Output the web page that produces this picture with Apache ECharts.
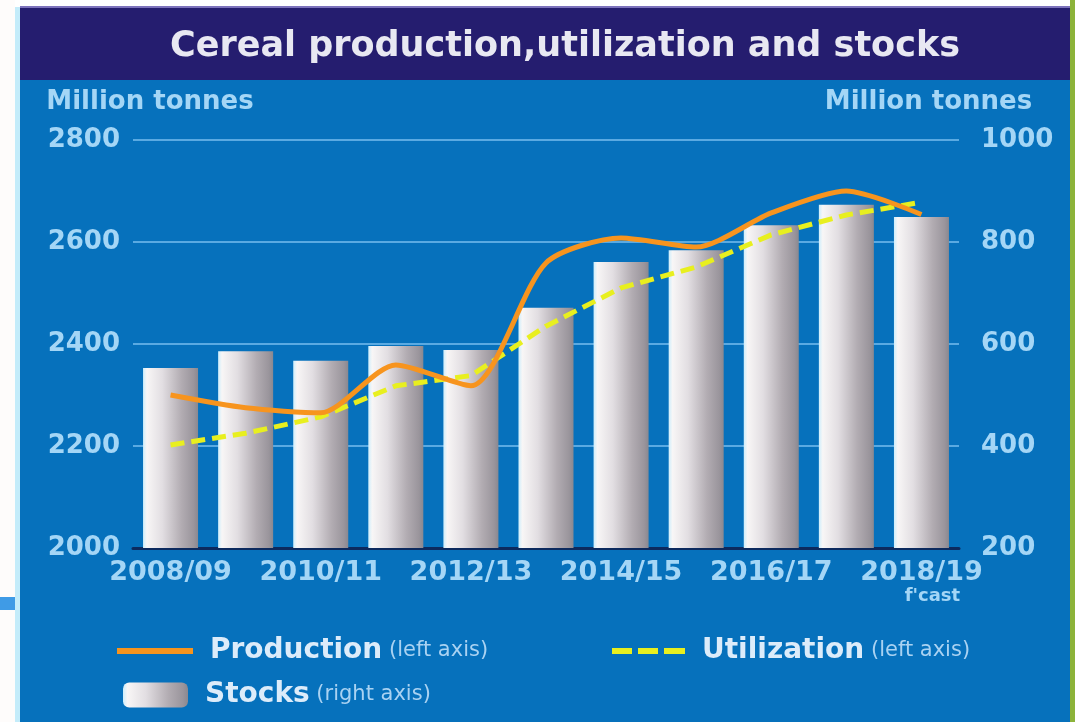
<!DOCTYPE html>
<html>
<head>
<meta charset="utf-8">
<title>Cereal production, utilization and stocks</title>
<script src="https://cdn.jsdelivr.net/npm/echarts@6/dist/echarts.min.js"></script>
<style>
  html, body { margin: 0; padding: 0; background: #ffffff; }
  #chart { width: 1075px; height: 722px; }
</style>
</head>
<body>
<div id="chart"></div>
<script>
// Marketing years on the category axis
const categories = ['2008/09', '2009/10', '2010/11', '2011/12', '2012/13', '2013/14',
                    '2014/15', '2015/16', '2016/17', '2017/18', '2018/19'];
// Million tonnes, left axis
const production  = [2300, 2275, 2265, 2359, 2318, 2559, 2608, 2590, 2657, 2700, 2654];
const utilization = [2202, 2225, 2257, 2318, 2338, 2435, 2510, 2551, 2614, 2653, 2678];
// Million tonnes, right axis
const stocks      = [553, 586, 567, 596, 588, 671, 761, 784, 833, 873, 849];
// Axis ticks
const leftTicks  = { min: 2000, max: 2800, step: 200 };
const rightTicks = { min: 200,  max: 1000, step: 200 };
const forecastNote = "f'cast";
const unitLabel = 'Million tonnes';

const FONT = 'DejaVu Sans';
const LABEL_COLOR = '#a4d6f6';
const BLUE_BG = '#0671bc';
const ORANGE = '#f7941e';
const YELLOW = '#e8ef1f';

const barFill = new echarts.graphic.LinearGradient(0, 0, 1, 0, [
  { offset: 0.00, color: '#cdeefc' },
  { offset: 0.07, color: '#f8f6f6' },
  { offset: 0.35, color: '#e2dee2' },
  { offset: 0.70, color: '#b2acb2' },
  { offset: 0.92, color: '#9a959c' },
  { offset: 1.00, color: '#8a8890' }
]);

// legend swatches: a solid stroke and a three-dash stroke
const solidIcon  = 'rect';
const dashedIcon = 'path://M0,0h20v6h-20z M26,0h20v6h-20z M52,0h21v6h-21z';

const chart = echarts.init(document.getElementById('chart'), null, { renderer: 'canvas' });

const legendRich = {
  g: { width: 12 },
  b: { fontFamily: FONT, fontWeight: 'bold', fontSize: 28, color: '#dcecfa' },
  s: { fontFamily: FONT, fontSize: 21, color: '#a9d2f2' }
};
const plain = v => String(v);

chart.setOption({
  backgroundColor: BLUE_BG,
  animation: false,
  graphic: [
    // page margins and header band
    { type: 'rect', shape: { x: 0, y: 0, width: 1075, height: 7 }, style: { fill: '#ffffff' } },
    { type: 'rect', shape: { x: 0, y: 0, width: 15, height: 722 }, style: { fill: '#fefcfb' } },
    { type: 'rect', shape: { x: 15, y: 7, width: 5, height: 715 }, style: { fill: '#c4ecfa' } },
    { type: 'rect', shape: { x: 0, y: 597, width: 15, height: 13 }, style: { fill: '#3f9be6' } },
    { type: 'rect', shape: { x: 20, y: 6, width: 1050, height: 2 }, style: { fill: '#7c72bc' } },
    { type: 'rect', shape: { x: 20, y: 8, width: 1050, height: 72 }, style: { fill: '#251d6f' } },
    { type: 'rect', shape: { x: 1070, y: 0, width: 5, height: 722 }, style: { fill: '#8cb33a' } }
  ],
  title: {
    text: 'Cereal production,utilization and stocks',
    left: 560,
    textAlign: 'center',
    top: 24,
    textStyle: { fontFamily: FONT, fontWeight: 'bold', fontSize: 35, color: '#e8e8f2' }
  },
  legend: [
    {
      data: [{ name: 'Production', icon: solidIcon, itemStyle: { color: ORANGE, borderWidth: 0 } }],
      left: 112, top: 632,
      itemWidth: 76, itemHeight: 6,
      formatter: n => '{g| }{b|' + n + '}{s| (left axis)}',
      textStyle: { rich: legendRich }
    },
    {
      data: [{ name: 'Utilization', icon: dashedIcon, itemStyle: { color: YELLOW, borderWidth: 0 } }],
      left: 607, top: 632,
      itemWidth: 73, itemHeight: 6,
      formatter: n => '{g| }{b|' + n + '}{s| (left axis)}',
      textStyle: { rich: legendRich }
    },
    {
      data: ['Stocks'],
      left: 118, top: 676,
      itemWidth: 65, itemHeight: 25,
      formatter: n => '{g| }{b|' + n + '}{s| (right axis)}',
      textStyle: { rich: legendRich }
    }
  ],
  grid: { left: 133, right: 116, top: 140, bottom: 174 },
  xAxis: {
    type: 'category',
    data: categories,
    axisLine: { lineStyle: { color: '#0c2a5e', width: 3 } },
    axisTick: { show: false },
    axisLabel: {
      interval: 1,
      margin: 11,
      color: LABEL_COLOR,
      fontFamily: FONT,
      fontWeight: 'bold',
      fontSize: 27,
      lineHeight: 28,
      formatter: (v, i) => i === categories.length - 1 ? v + '\n{c|' + forecastNote + '}' : v,
      rich: {
        c: { fontFamily: FONT, fontSize: 18, lineHeight: 19, color: LABEL_COLOR, padding: [0, 0, 0, 22] }
      }
    }
  },
  yAxis: [
    {
      type: 'value',
      position: 'left',
      min: leftTicks.min, max: leftTicks.max, interval: leftTicks.step,
      name: unitLabel,
      nameLocation: 'end',
      nameGap: 25,
      nameTextStyle: { fontFamily: FONT, fontWeight: 'bold', fontSize: 26, color: LABEL_COLOR, align: 'center', padding: [0, 0, 0, 34] },
      axisLine: { show: false },
      axisTick: { show: false },
      axisLabel: { margin: 13, color: LABEL_COLOR, fontFamily: FONT, fontWeight: 'bold', fontSize: 26, formatter: plain },
      splitLine: { lineStyle: { color: '#5aaae2', width: 2 } }
    },
    {
      type: 'value',
      position: 'right',
      min: rightTicks.min, max: rightTicks.max, interval: rightTicks.step,
      name: unitLabel,
      nameLocation: 'end',
      nameGap: 25,
      nameTextStyle: { fontFamily: FONT, fontWeight: 'bold', fontSize: 26, color: LABEL_COLOR, align: 'center', padding: [0, 61, 0, 0] },
      axisLine: { show: false },
      axisTick: { show: false },
      axisLabel: { margin: 22, color: LABEL_COLOR, fontFamily: FONT, fontWeight: 'bold', fontSize: 26, formatter: plain },
      splitLine: { show: false }
    }
  ],
  series: [
    {
      name: 'Stocks',
      type: 'bar',
      yAxisIndex: 1,
      data: stocks,
      barWidth: 55,
      itemStyle: { color: barFill }
    },
    {
      name: 'Utilization',
      type: 'line',
      yAxisIndex: 0,
      data: utilization,
      symbol: 'none',
      z: 3,
      lineStyle: { color: YELLOW, width: 5, type: [14, 7] },
      itemStyle: { color: YELLOW }
    },
    {
      name: 'Production',
      type: 'line',
      yAxisIndex: 0,
      data: production,
      symbol: 'none',
      smooth: 0.25,
      z: 4,
      lineStyle: { color: ORANGE, width: 5 },
      itemStyle: { color: ORANGE }
    }
  ]
});
</script>
</body>
</html>
